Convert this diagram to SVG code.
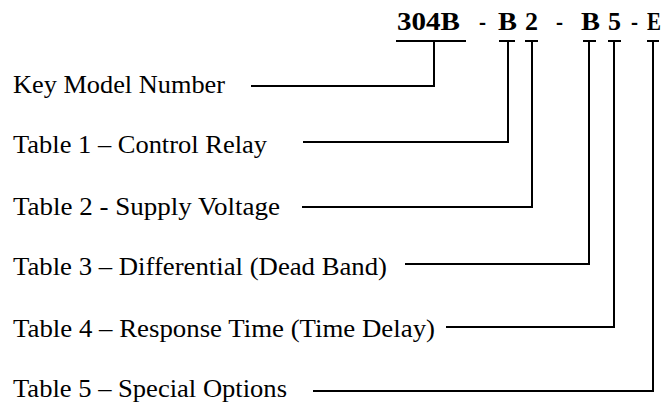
<svg xmlns="http://www.w3.org/2000/svg" width="672" height="404" viewBox="0 0 672 404">
<style>
.lbl{font-family:"Liberation Serif","Times New Roman",serif;font-size:25px;fill:#000}
.code{font-family:"Liberation Serif","Times New Roman",serif;font-size:25px;font-weight:bold;fill:#000}
.conn{fill:none;stroke:#000;stroke-width:2}
</style>
<rect width="672" height="404" fill="#fff"/>
<g id="code">
<text class="code" x="397" y="30" textLength="63" lengthAdjust="spacingAndGlyphs">304B</text>
<text class="code" x="479" y="30" textLength="7" lengthAdjust="spacingAndGlyphs">-</text>
<text class="code" x="498" y="30" textLength="19" lengthAdjust="spacingAndGlyphs">B</text>
<text class="code" x="525" y="30" textLength="13" lengthAdjust="spacingAndGlyphs">2</text>
<text class="code" x="556" y="30" textLength="7" lengthAdjust="spacingAndGlyphs">-</text>
<text class="code" x="581" y="30" textLength="19" lengthAdjust="spacingAndGlyphs">B</text>
<text class="code" x="608" y="30" textLength="13" lengthAdjust="spacingAndGlyphs">5</text>
<text class="code" x="631" y="30" textLength="7" lengthAdjust="spacingAndGlyphs">-</text>
<text class="code" x="647" y="30" textLength="14" lengthAdjust="spacingAndGlyphs">E</text>
</g>
<g id="key"><text class="lbl" x="13" y="93" textLength="212" lengthAdjust="spacingAndGlyphs">Key Model Number</text></g>
<g id="table1"><text class="lbl" x="13" y="153" textLength="254" lengthAdjust="spacingAndGlyphs">Table 1 – Control Relay</text></g>
<g id="table2"><text class="lbl" x="13" y="215" textLength="267" lengthAdjust="spacingAndGlyphs">Table 2 - Supply Voltage</text></g>
<g id="table3"><text class="lbl" x="13" y="275" textLength="374" lengthAdjust="spacingAndGlyphs">Table 3 – Differential (Dead Band)</text></g>
<g id="table4"><text class="lbl" x="13" y="337" textLength="422" lengthAdjust="spacingAndGlyphs">Table 4 – Response Time (Time Delay)</text></g>
<g id="table5"><text class="lbl" x="13" y="397" textLength="274" lengthAdjust="spacingAndGlyphs">Table 5 – Special Options</text></g>
<g id="connectors">
<path class="conn" d="M396 41H466M434 41V86H251"/>
<path class="conn" d="M499 41H515M508 41V142H303"/>
<path class="conn" d="M525 41H538M532 41V207H302"/>
<path class="conn" d="M583 41H596M589 41V264H405"/>
<path class="conn" d="M608 41H621M614 41V327H446"/>
<path class="conn" d="M647 41H659M653 41V391H313"/>
</g>
</svg>
